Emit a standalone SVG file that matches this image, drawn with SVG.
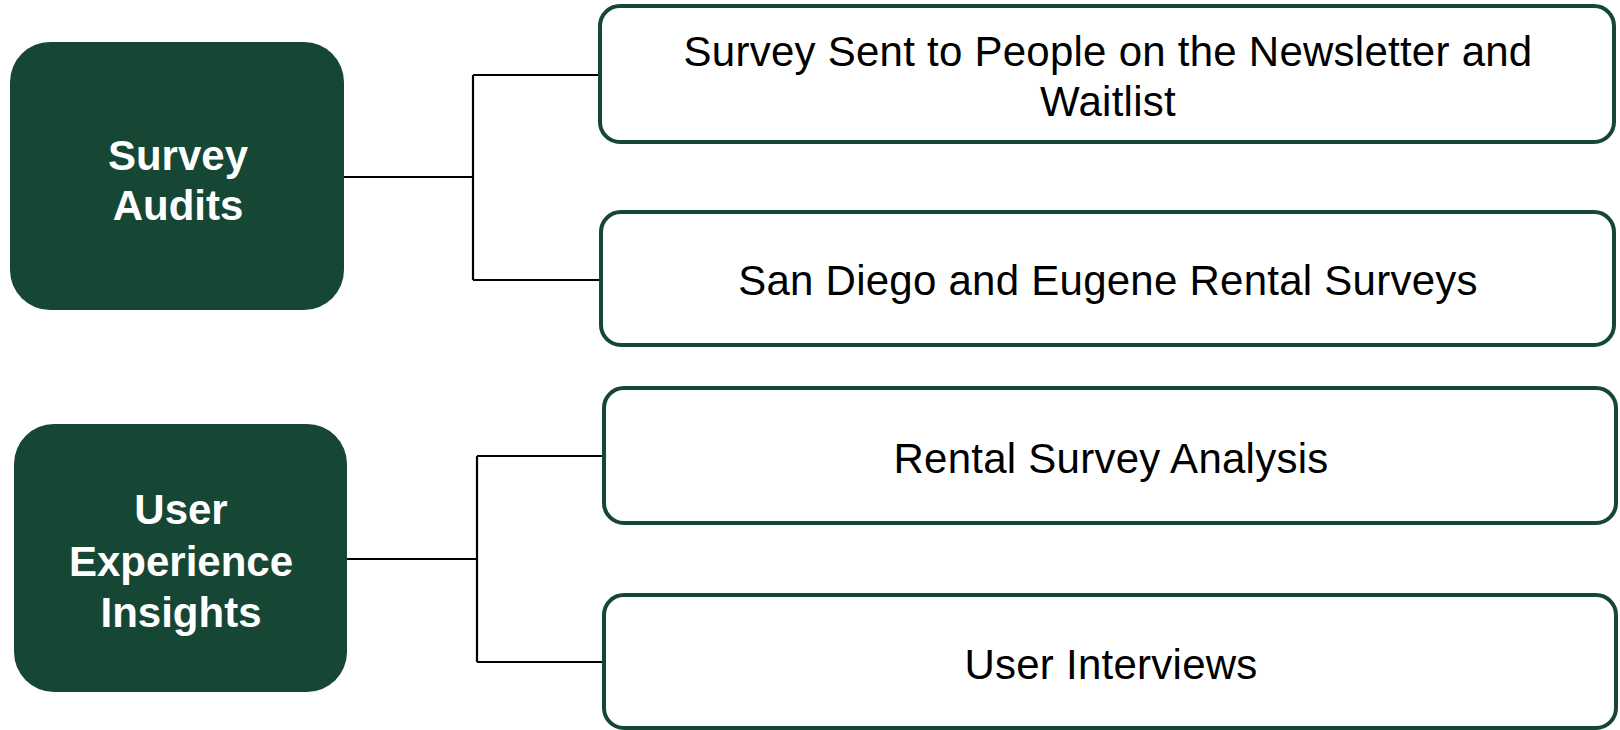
<svg xmlns="http://www.w3.org/2000/svg" width="1620" height="730" viewBox="0 0 1620 730">
<style>
.cat{fill:#154734;}
.item{fill:#ffffff;stroke:#154734;stroke-width:4;}
.ct{font-family:"Liberation Sans",Arial,sans-serif;font-weight:bold;font-size:42px;fill:#ffffff;text-anchor:middle;}
.it{font-family:"Liberation Sans",Arial,sans-serif;font-size:42px;fill:#000000;text-anchor:middle;letter-spacing:0.25px;}
.conn{fill:none;stroke:#000000;stroke-width:2.2;}
</style>
<rect width="1620" height="730" fill="#ffffff"/>
<g id="connectors">
<path class="conn" d="M344,177 H473 M473,75 V280 M473,75 H600 M473,280 H601"/>
<path class="conn" d="M347,559 H477 M477,456 V662 M477,456 H604 M477,662 H604"/>
</g>
<g id="survey-audits">
<rect class="cat" x="10" y="42" width="334" height="268" rx="40" ry="40"/>
<text class="ct" x="178" y="170">Survey</text>
<text class="ct" x="178" y="220">Audits</text>
</g>
<g id="user-experience-insights">
<rect class="cat" x="14" y="424" width="333" height="268" rx="40" ry="40"/>
<text class="ct" x="181" y="524">User</text>
<text class="ct" x="181" y="576">Experience</text>
<text class="ct" x="181" y="627">Insights</text>
</g>
<g id="survey-sent">
<rect class="item" x="600" y="6" width="1014" height="136" rx="20" ry="20"/>
<text class="it" x="1108" y="66">Survey Sent to People on the Newsletter and</text>
<text class="it" x="1108" y="116">Waitlist</text>
</g>
<g id="rental-surveys">
<rect class="item" x="601" y="212" width="1013" height="133" rx="20" ry="20"/>
<text class="it" x="1108" y="295">San Diego and Eugene Rental Surveys</text>
</g>
<g id="rental-analysis">
<rect class="item" x="604" y="388" width="1012" height="135" rx="20" ry="20"/>
<text class="it" x="1111" y="473">Rental Survey Analysis</text>
</g>
<g id="user-interviews">
<rect class="item" x="604" y="595" width="1012" height="133" rx="20" ry="20"/>
<text class="it" x="1111" y="679">User Interviews</text>
</g>
</svg>
